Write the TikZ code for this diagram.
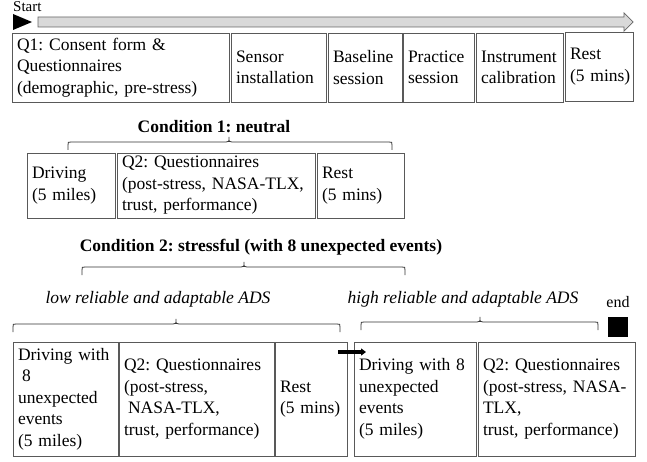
\documentclass[tikz,border=0pt]{standalone}
\usepackage{fontspec}
\setmainfont{Liberation Serif}
\frenchspacing
\usetikzlibrary{arrows.meta,calc}

% flat brace: left x, right x, tip x, line y
\newcommand{\phasebrace}[4]{%
    \draw[bracepath] (#1,#4+8) -- (#1,#4+3) .. controls (#1,#4) .. (#1+3,#4)
        -- (#3-3,#4) .. controls (#3,#4) .. (#3,#4-5) .. controls (#3,#4) .. (#3+3,#4)
        -- (#2-3,#4) .. controls (#2,#4) .. (#2,#4+3) -- (#2,#4+8);}

\begin{document}
\begin{tikzpicture}[x=1pt, y=-1pt,
    stepbox/.style={draw=black!65, line width=0.8pt, anchor=north west, align=left,
        inner xsep=5pt, inner ysep=2pt, outer sep=0pt,
        font=\fontsize{17.5}{21.5}\selectfont},
    bracepath/.style={draw=black!80, line width=0.8pt},
    condtext/.style={font=\fontsize{17.5}{21}\selectfont\bfseries},
    armtext/.style={font=\fontsize{17.5}{21}\selectfont\itshape}]

    \useasboundingbox[fill=white] (0,0) rectangle (647,462);

    % Timeline
    \node[font=\fontsize{15}{18}\selectfont, anchor=base west, inner sep=0pt] (start) at (13,12) {Start};
    \fill[black] (13,14) -- (13,30) -- (32,22) -- cycle;
    \draw[draw=black!60, fill=gray!30, line width=0.7pt]
        (38,17) -- (624,17) -- (624,13) -- (633,22) -- (624,31) -- (624,27) -- (38,27) -- cycle;

    % Preparation steps
    \node[stepbox, minimum width=217pt, minimum height=69pt, text width=207pt] (q1) at (12,33)
        {Q1: Consent form \&\\Questionnaires\\(demographic, pre-stress)};
    \node[stepbox, minimum width=95pt, minimum height=69pt, text width=85pt] (sensor) at (231,33)
        {Sensor\\installation};
    \node[stepbox, minimum width=74pt, minimum height=69pt, text width=64pt] (baseline) at (328,33)
        {Baseline\\session};
    \node[stepbox, minimum width=71pt, minimum height=69pt, text width=61pt] (practice) at (403,33)
        {Practice\\session};
    \node[stepbox, minimum width=87pt, minimum height=69pt, text width=77pt] (calib) at (476,33)
        {Instrument\\calibration};
    \node[stepbox, minimum width=68pt, minimum height=69pt, text width=58pt] (rest1) at (565,32)
        {Rest\\(5~mins)};

    % Condition 1
    \node[condtext] (cond1) at (214,127) {Condition 1: neutral};
    \phasebrace{68}{392}{229}{142}
    \node[stepbox, minimum width=88pt, minimum height=65pt, text width=78pt] (drive1) at (27,153)
        {Driving\\(5~miles)};
    \node[stepbox, minimum width=198pt, minimum height=65pt, text width=188pt] (q2a) at (117,153)
        {Q2: Questionnaires\\(post-stress, NASA-TLX,\\trust, performance)};
    \node[stepbox, minimum width=87pt, minimum height=65pt, text width=77pt] (rest2) at (317,153)
        {Rest\\(5~mins)};

    % Condition 2
    \node[condtext] (cond2) at (261,247) {Condition 2: stressful (with 8 unexpected events)};
    \phasebrace{82}{405}{244}{267}

    \node[armtext] (low) at (158,299) {low reliable and adaptable ADS};
    \phasebrace{13}{340}{176}{324}
    \node[armtext] (high) at (463,299) {high reliable and adaptable ADS};
    \phasebrace{361}{598}{480}{322}

    \node[font=\fontsize{16}{18}\selectfont] (endlabel) at (618,302) {end};
    \node[fill=black, minimum size=20pt, inner sep=0pt, anchor=north west] (endmark) at (608,317) {};

    \node[stepbox, minimum width=105pt, minimum height=114pt, text width=95pt] (d2a) at (13,342)
        {Driving with\\\hspace*{4pt}8\\unexpected\\events\\(5~miles)};
    \node[stepbox, minimum width=155pt, minimum height=114pt, text width=145pt] (q2b) at (119,342)
        {Q2:~Questionnaires\\(post-stress,\\\hspace*{4pt}NASA-TLX,\\trust, performance)};
    \node[stepbox, minimum width=72pt, minimum height=114pt, text width=62pt] (rest3) at (275,342)
        {Rest\\(5~mins)};
    \node[stepbox, minimum width=122pt, minimum height=114pt, text width=112pt] (d2b) at (354,342)
        {Driving with 8\\unexpected\\events\\(5~miles)};
    \node[stepbox, minimum width=157pt, minimum height=114pt, text width=147pt] (q2c) at (478,342)
        {Q2:~Questionnaires\\(post-stress, NASA-\\TLX,\\trust, performance)};

    \draw[line width=3.5pt, -{Triangle[length=5pt, width=7pt]}]
        ($(rest3.north east)+(-9,10)$) -- ($(d2b.north west)+(12,10)$);
\end{tikzpicture}
\end{document}
